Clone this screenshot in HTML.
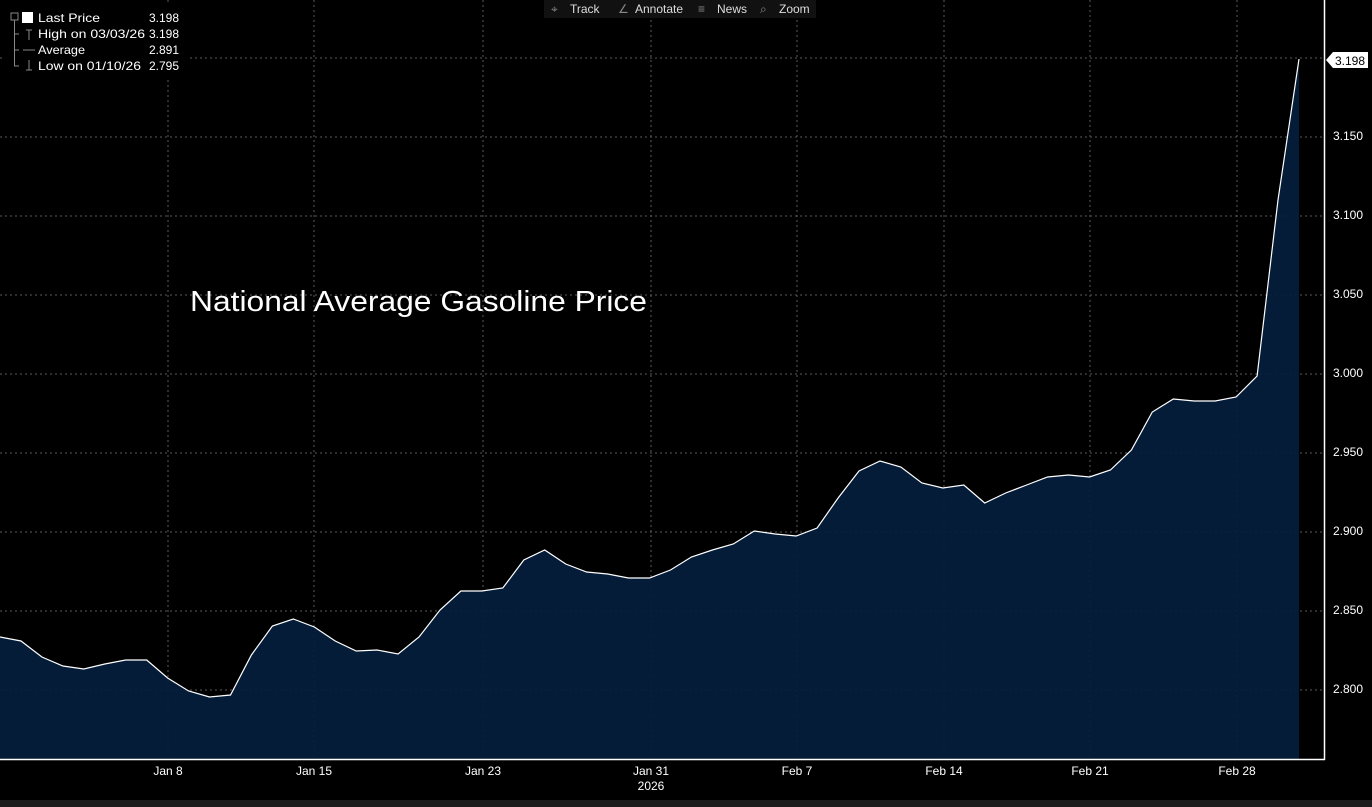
<!DOCTYPE html>
<html><head><meta charset="utf-8"><style>
html,body{margin:0;padding:0;background:#000;width:1372px;height:807px;overflow:hidden;font-family:"Liberation Sans",sans-serif}
svg{display:block}
</style></head><body>
<svg width="1372" height="807" xmlns="http://www.w3.org/2000/svg" font-family="Liberation Sans, sans-serif">
<rect width="1372" height="807" fill="#000"/>
<g stroke="#5a5a5a" stroke-dasharray="2,3" stroke-width="1">
<line x1="0" x2="1324" y1="58" y2="58"/>
<line x1="0" x2="1324" y1="137" y2="137"/>
<line x1="0" x2="1324" y1="216" y2="216"/>
<line x1="0" x2="1324" y1="295" y2="295"/>
<line x1="0" x2="1324" y1="374" y2="374"/>
<line x1="0" x2="1324" y1="453" y2="453"/>
<line x1="0" x2="1324" y1="532" y2="532"/>
<line x1="0" x2="1324" y1="611" y2="611"/>
<line x1="0" x2="1324" y1="690" y2="690"/>
<line x1="168" x2="168" y1="0" y2="759"/>
<line x1="314" x2="314" y1="0" y2="759"/>
<line x1="483" x2="483" y1="0" y2="759"/>
<line x1="651" x2="651" y1="0" y2="759"/>
<line x1="797" x2="797" y1="0" y2="759"/>
<line x1="944" x2="944" y1="0" y2="759"/>
<line x1="1090" x2="1090" y1="0" y2="759"/>
<line x1="1237" x2="1237" y1="0" y2="759"/>
</g>
<path id="fill" fill="#041e3c" fill-opacity="0.93" d=""/>
<polyline id="line" fill="none" stroke="#fff" stroke-width="1.2" points=""/>
<line x1="1324.5" x2="1324.5" y1="0" y2="760" stroke="#fff" stroke-width="1.5"/>
<line x1="0" x2="1325" y1="759.5" y2="759.5" stroke="#fff" stroke-width="1.5"/>
<g id="ticks" stroke="#fff" stroke-width="1"></g>
<g fill="#fff" font-size="12">
<text x="1333" y="140">3.150</text>
<text x="1333" y="219">3.100</text>
<text x="1333" y="298">3.050</text>
<text x="1333" y="377">3.000</text>
<text x="1333" y="456">2.950</text>
<text x="1333" y="535">2.900</text>
<text x="1333" y="614">2.850</text>
<text x="1333" y="693">2.800</text>
</g>
<polygon points="1326,60 1333,52 1368,52 1368,68 1333,68" fill="#fff"/>
<text x="1335" y="65" font-size="12" fill="#000">3.198</text>
<g fill="#fff" font-size="12" text-anchor="middle">
<text x="168" y="775">Jan 8</text>
<text x="314" y="775">Jan 15</text>
<text x="483" y="775">Jan 23</text>
<text x="651" y="775">Jan 31</text>
<text x="797" y="775">Feb 7</text>
<text x="944" y="775">Feb 14</text>
<text x="1090" y="775">Feb 21</text>
<text x="1237" y="775">Feb 28</text>
<text x="651" y="790">2026</text>
</g>
<rect x="0" y="800" width="1372" height="7" fill="#1c1c1c"/>
<text x="190" y="311" font-size="29" fill="#fff" textLength="457" lengthAdjust="spacingAndGlyphs">National Average Gasoline Price</text>
<rect x="4" y="4" width="185" height="73" fill="#000" rx="3"/>
<g stroke="#888" fill="none">
<rect x="11" y="13" width="7" height="7"/>
<line x1="14.5" y1="20" x2="14.5" y2="66"/>
<line x1="14" y1="34" x2="19" y2="34"/><line x1="14" y1="50" x2="19" y2="50"/><line x1="14" y1="66" x2="19" y2="66"/>
<line x1="29" y1="30" x2="29" y2="40"/><line x1="26" y1="30" x2="32" y2="30"/>
<line x1="23" y1="50" x2="35" y2="50"/>
<line x1="29" y1="60" x2="29" y2="70"/><line x1="26" y1="70" x2="32" y2="70"/>
</g>
<rect x="22" y="12" width="11" height="11" fill="#fff"/>
<g fill="#fff" font-size="12">
<text x="38" y="22" textLength="62" lengthAdjust="spacingAndGlyphs">Last Price</text><text x="149" y="22">3.198</text>
<text x="38" y="38" textLength="107" lengthAdjust="spacingAndGlyphs">High on 03/03/26</text><text x="149" y="38">3.198</text>
<text x="38" y="54" textLength="47" lengthAdjust="spacingAndGlyphs">Average</text><text x="149" y="54">2.891</text>
<text x="38" y="70" textLength="103" lengthAdjust="spacingAndGlyphs">Low on 01/10/26</text><text x="149" y="70">2.795</text>
</g>
<rect x="544" y="0" width="272" height="18" fill="#111"/>
<g fill="#ddd" font-size="12">
<text x="551" y="13" fill="#888">⌖</text><text x="570" y="13">Track</text>
<text x="618" y="13" fill="#888">∠</text><text x="635" y="13">Annotate</text>
<text x="698" y="13" fill="#888">≡</text><text x="717" y="13">News</text>
<text x="760" y="13" fill="#888">⌕</text><text x="779" y="13">Zoom</text>
</g>
<script>
var ys=[637,641,657,666,669,664,660,660,678,691,697,695,655,626,619,627,641,651,650,654,637,610,591,591,588,560,550,564,572,574,578,578,570,557,550,544,531,534,536,528,498,471,461,467,483,488,485,503,493,485,477,475,477,470,450,412,399,401,401,397,376,200,59];
var step=(1299-0)/(ys.length-1);
var pts=ys.map(function(y,i){return (i*step).toFixed(1)+","+y}).join(" ");
document.getElementById("line").setAttribute("points",pts);
document.getElementById("fill").setAttribute("d","M0,759 L"+pts.replace(/ /g," L")+" L1299,759 Z");
var t="";for(var x=0.6;x<1324;x+=step){t+='<line x1="'+x.toFixed(1)+'" x2="'+x.toFixed(1)+'" y1="759" y2="764"/>';}
for(var y=58;y<760;y+=39.5){t+='<line x1="1324" x2="1329" y1="'+y+'" y2="'+y+'"/>';}
document.getElementById("ticks").innerHTML=t;
</script>
</svg>
</body></html>
